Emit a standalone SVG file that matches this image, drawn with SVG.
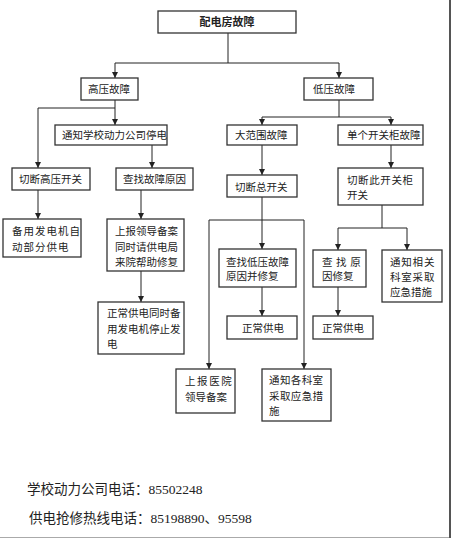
<svg xmlns="http://www.w3.org/2000/svg" width="452" height="539" viewBox="0 0 452 539">
<style>
.box{fill:#fff;stroke:#333;stroke-width:1.3}
.t{font-family:"Noto Sans CJK SC","Noto Sans CJK TC",sans-serif;font-size:10.5px;fill:#222}
.b{font-weight:bold;font-size:11px}
.c{fill:none;stroke:#222;stroke-width:1}
.f{font-family:"Liberation Serif","Noto Sans CJK SC",serif;font-size:13.5px;fill:#222}
</style>
<defs>
<marker id="ah" markerUnits="userSpaceOnUse" markerWidth="7" markerHeight="7" refX="6" refY="3" orient="auto">
<path d="M0,0 L6,3 L0,6 z" fill="#222"/>
</marker>
</defs>
<rect x="0" y="0" width="452" height="539" fill="#fff"/>
<line x1="0" y1="537.5" x2="451" y2="537.5" stroke="#aaa" stroke-width="1"/>
<line x1="450" y1="0" x2="450" y2="538" stroke="#555" stroke-width="2"/>

<g id="connectors">
<path class="c" d="M228,33 V63 M115,63 H339"/>
<path class="c" marker-end="url(#ah)" d="M115,63 V78"/>
<path class="c" marker-end="url(#ah)" d="M339,63 V78"/>
<path class="c" marker-end="url(#ah)" d="M115,100 V125"/>
<path class="c" marker-end="url(#ah)" d="M115,108 H38 V168"/>
<path class="c" marker-end="url(#ah)" d="M152,145 V168"/>
<path class="c" marker-end="url(#ah)" d="M38,190 V219"/>
<path class="c" marker-end="url(#ah)" d="M141,190 V219"/>
<path class="c" marker-end="url(#ah)" d="M141,271 V302"/>
<path class="c" d="M339,100 V117 M262,117 H391"/>
<path class="c" marker-end="url(#ah)" d="M262,117 V125"/>
<path class="c" marker-end="url(#ah)" d="M391,117 V125"/>
<path class="c" marker-end="url(#ah)" d="M262,145 V175"/>
<path class="c" marker-end="url(#ah)" d="M262,197 V249"/>
<path class="c" d="M209,220 H304"/>
<path class="c" marker-end="url(#ah)" d="M209,220 V369"/>
<path class="c" marker-end="url(#ah)" d="M304,220 V369"/>
<path class="c" marker-end="url(#ah)" d="M262,287 V316"/>
<path class="c" marker-end="url(#ah)" d="M391,145 V168"/>
<path class="c" d="M382,205 V228 M338,228 H407"/>
<path class="c" marker-end="url(#ah)" d="M338,228 V250"/>
<path class="c" marker-end="url(#ah)" d="M407,228 V250"/>
<path class="c" marker-end="url(#ah)" d="M338,287 V316"/>
</g>

<g id="n-root"><rect class="box" x="158" y="11" width="138" height="22"/><text class="t b" x="227" y="26" text-anchor="middle">配电房故障</text></g>
<g id="n-high"><rect class="box" x="81" y="78" width="57" height="22"/><text class="t" x="88" y="93">高压故障</text></g>
<g id="n-low"><rect class="box" x="304" y="78" width="69" height="22"/><text class="t" x="313" y="93">低压故障</text></g>
<g id="n-notify-school"><rect class="box" x="55" y="125" width="112" height="20"/><text class="t" x="62" y="139">通知学校动力公司停电</text></g>
<g id="n-cut-high"><rect class="box" x="12" y="168" width="78" height="22"/><text class="t" x="19" y="183">切断高压开关</text></g>
<g id="n-find-cause"><rect class="box" x="116" y="168" width="77" height="22"/><text class="t" x="123" y="183">查找故障原因</text></g>
<g id="n-backup"><rect class="box" x="3" y="219" width="78" height="38"/><text class="t" x="12" y="235" letter-spacing="1">备用发电机自</text><text class="t" x="12" y="251" letter-spacing="1">动部分供电</text></g>
<g id="n-report"><rect class="box" x="107" y="219" width="77" height="52"/><text class="t" x="115" y="235">上报领导备案</text><text class="t" x="115" y="251">同时请供电局</text><text class="t" x="115" y="266">来院帮助修复</text></g>
<g id="n-normal-stop"><rect class="box" x="98" y="302" width="86" height="52"/><text class="t" x="107" y="317">正常供电同时备</text><text class="t" x="107" y="333">用发电机停止发</text><text class="t" x="107" y="348">电</text></g>
<g id="n-wide"><rect class="box" x="227" y="125" width="70" height="20"/><text class="t" x="235" y="139">大范围故障</text></g>
<g id="n-single"><rect class="box" x="338" y="125" width="85" height="20"/><text class="t" x="347" y="139">单个开关柜故障</text></g>
<g id="n-cut-main"><rect class="box" x="227" y="175" width="70" height="22"/><text class="t" x="235" y="191">切断总开关</text></g>
<g id="n-cut-cabinet"><rect class="box" x="338" y="168" width="85" height="37"/><text class="t" x="347" y="184" letter-spacing="0.6">切断此开关柜</text><text class="t" x="347" y="199">开关</text></g>
<g id="n-find-low"><rect class="box" x="219" y="249" width="77" height="38"/><text class="t" x="226" y="266">查找低压故障</text><text class="t" x="226" y="280">原因并修复</text></g>
<g id="n-normal1"><rect class="box" x="227" y="316" width="70" height="23"/><text class="t" x="242" y="332">正常供电</text></g>
<g id="n-report-hosp"><rect class="box" x="176" y="369" width="59" height="44"/><text class="t" x="185" y="385" letter-spacing="1.6">上报医院</text><text class="t" x="185" y="401">领导备案</text></g>
<g id="n-notify-all"><rect class="box" x="262" y="369" width="69" height="52"/><text class="t" x="269" y="384" letter-spacing="0.4">通知各科室</text><text class="t" x="269" y="400" letter-spacing="0.4">采取应急措</text><text class="t" x="269" y="415">施</text></g>
<g id="n-find-reason"><rect class="box" x="313" y="250" width="53" height="37"/><text class="t" x="322" y="266" letter-spacing="3.6">查找原</text><text class="t" x="322" y="280">因修复</text></g>
<g id="n-normal2"><rect class="box" x="313" y="316" width="60" height="23"/><text class="t" x="322" y="332">正常供电</text></g>
<g id="n-notify-dept"><rect class="box" x="382" y="250" width="60" height="52"/><text class="t" x="390" y="266" letter-spacing="0.8">通知相关</text><text class="t" x="390" y="281" letter-spacing="0.8">科室采取</text><text class="t" x="390" y="296">应急措施</text></g>

<text class="f" x="27" y="494">学校动力公司电话：85502248</text>
<text class="f" x="29" y="523">供电抢修热线电话：85198890、95598</text>
</svg>
